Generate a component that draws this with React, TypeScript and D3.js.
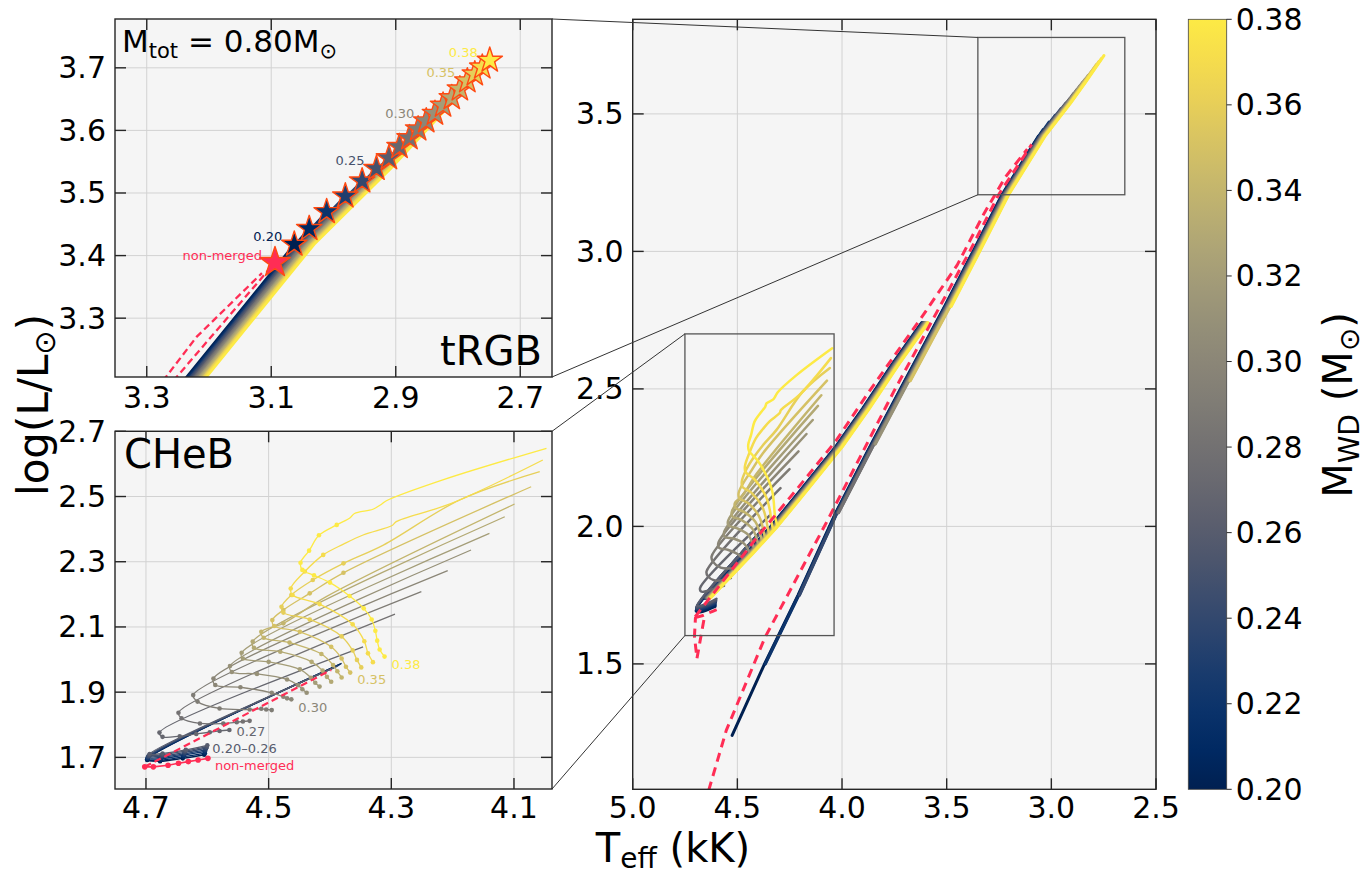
import React from "react";
import * as d3 from "d3";

type P = [number, number];

// ---------------- data (T_eff in kK, log L/Lsun) ----------------
const masses = [0.2, 0.21, 0.22, 0.23, 0.24, 0.25, 0.26, 0.27, 0.28, 0.29, 0.3, 0.31, 0.32, 0.33, 0.34, 0.35, 0.36, 0.37, 0.38];
const tipT = [3.063, 3.039, 3.011, 2.981, 2.954, 2.931, 2.911, 2.894, 2.878, 2.864, 2.851, 2.837, 2.824, 2.81, 2.797, 2.785, 2.773, 2.761, 2.749];
const tipL = [3.418, 3.443, 3.47, 3.495, 3.519, 3.539, 3.556, 3.574, 3.588, 3.602, 3.615, 3.627, 3.64, 3.652, 3.666, 3.679, 3.69, 3.701, 3.712];
const rgbStartL = [1.24, 1.33, 1.45, 1.56, 1.66, 1.76, 1.85, 1.94, 2.02, 2.1, 2.18, 2.25, 2.32, 2.39, 2.46, 2.52, 2.58, 2.64, 2.7];
const rgbOffsetT = [0, -0.002, -0.004, -0.006, -0.007, -0.009, -0.011, -0.013, -0.014, -0.016, -0.018, -0.02, -0.021, -0.023, -0.025, -0.027, -0.028, -0.03, -0.032];
const rgbLocusL = [1.24, 1.5, 1.75, 2.05, 2.3, 2.53, 2.8, 3.0, 3.206, 3.418, 3.539, 3.615, 3.712];
const rgbLocusT = [4.525, 4.37, 4.21, 4.03, 3.86, 3.7, 3.51, 3.374, 3.236, 3.063, 2.94, 2.869, 2.781];
const agbL = [1.74, 1.82, 1.9, 2.0, 2.13, 2.29, 2.43, 2.59, 2.74];
const agbT = [4.66, 4.56, 4.46, 4.34, 4.2, 4.03, 3.9, 3.76, 3.62];

const cheb020: P[] = [[4.381, 1.988], [4.698, 1.692], [4.677, 1.688], [4.64, 1.697], [4.605, 1.708]];
const cheb021: P[] = [[4.383, 1.986], [4.698, 1.694], [4.676, 1.692], [4.639, 1.702], [4.604, 1.713]];
const cheb022: P[] = [[4.385, 1.984], [4.697, 1.697], [4.676, 1.696], [4.638, 1.707], [4.604, 1.718]];
const cheb023: P[] = [[4.386, 1.982], [4.697, 1.7], [4.675, 1.7], [4.637, 1.711], [4.603, 1.723]];
const cheb024: P[] = [[4.388, 1.98], [4.696, 1.703], [4.675, 1.704], [4.637, 1.715], [4.602, 1.728]];
const cheb025: P[] = [[4.39, 1.978], [4.695, 1.706], [4.674, 1.708], [4.636, 1.719], [4.601, 1.732]];
const cheb026: P[] = [[4.392, 1.976], [4.694, 1.71], [4.673, 1.712], [4.635, 1.723], [4.6, 1.737]];
const cheb027: P[] = [[4.346, 2.039], [4.678, 1.776], [4.673, 1.763], [4.645, 1.765], [4.618, 1.772], [4.596, 1.777], [4.58, 1.781], [4.564, 1.784]];
const cheb028: P[] = [[4.294, 2.139], [4.647, 1.837], [4.642, 1.82], [4.612, 1.804], [4.574, 1.804], [4.552, 1.808], [4.542, 1.81], [4.531, 1.812]];
const cheb029: P[] = [[4.251, 2.208], [4.623, 1.891], [4.616, 1.871], [4.58, 1.85], [4.531, 1.847], [4.512, 1.849], [4.504, 1.847], [4.495, 1.845]];
const cheb030: P[] = [[4.208, 2.273], [4.59, 1.942], [4.587, 1.922], [4.546, 1.915], [4.495, 1.898], [4.476, 1.886], [4.47, 1.881], [4.463, 1.878]];
const cheb031: P[] = [[4.17, 2.336], [4.563, 1.98], [4.56, 1.962], [4.519, 1.956], [4.47, 1.939], [4.452, 1.921], [4.445, 1.909], [4.438, 1.898]];
const cheb032: P[] = [[4.14, 2.387], [4.544, 2.021], [4.542, 2.003], [4.5, 1.993], [4.449, 1.97], [4.431, 1.944], [4.424, 1.929], [4.417, 1.917]];
const cheb033: P[] = [[4.115, 2.438], [4.526, 2.055], [4.524, 2.036], [4.481, 2.024], [4.43, 1.993], [4.412, 1.966], [4.405, 1.947], [4.398, 1.932]];
const cheb034: P[] = [[4.099, 2.477], [4.406, 2.193], [4.476, 2.111], [4.512, 2.085], [4.508, 2.067], [4.466, 2.052], [4.414, 2.017], [4.395, 1.983], [4.388, 1.964], [4.381, 1.945]];
const cheb035: P[] = [[4.072, 2.53], [4.378, 2.266], [4.433, 2.203], [4.476, 2.152], [4.494, 2.121], [4.491, 2.103], [4.449, 2.085], [4.398, 2.039], [4.381, 2.003], [4.374, 1.978], [4.367, 1.96]];
const cheb036: P[] = [[4.058, 2.576], [4.189, 2.489], [4.313, 2.351], [4.378, 2.295], [4.428, 2.244], [4.463, 2.198], [4.479, 2.162], [4.476, 2.144], [4.433, 2.123], [4.381, 2.071], [4.363, 2.028], [4.356, 1.999], [4.349, 1.976]];
const cheb037: P[] = [[4.053, 2.612], [4.202, 2.479], [4.292, 2.423], [4.298, 2.412], [4.346, 2.382], [4.378, 2.354], [4.411, 2.321], [4.441, 2.27], [4.464, 2.218], [4.461, 2.198], [4.417, 2.17], [4.363, 2.108], [4.344, 2.056], [4.338, 2.019], [4.33, 1.992]];
const cheb038: P[] = [[4.047, 2.648], [4.216, 2.551], [4.308, 2.487], [4.318, 2.474], [4.33, 2.461], [4.36, 2.448], [4.367, 2.435], [4.389, 2.413], [4.418, 2.381], [4.434, 2.334], [4.448, 2.297], [4.445, 2.275], [4.426, 2.258], [4.4, 2.236], [4.368, 2.195], [4.345, 2.157], [4.332, 2.123], [4.326, 2.088], [4.323, 2.058], [4.319, 2.031], [4.311, 2.009]];
const chebPaths: P[][] = [cheb020, cheb021, cheb022, cheb023, cheb024, cheb025, cheb026, cheb027, cheb028, cheb029, cheb030, cheb031, cheb032, cheb033, cheb034, cheb035, cheb036, cheb037, cheb038];
const chebDotFrom = [1, 1, 1, 1, 1, 1, 1, 1, 1, 1, 1, 1, 1, 1, 2, 1, 3, 6, 7];

// non-merged single star
const nmRgb: P[] = [[4.637, 1.04], [4.553, 1.258], [4.367, 1.598], [4.069, 2.022], [3.753, 2.49], [3.39, 3.0], [3.252, 3.206], [3.094, 3.389]];
const nmAgb: P[] = [[4.702, 1.671], [4.398, 1.968], [4.2, 2.15], [4.03, 2.31], [3.88, 2.48], [3.62, 2.76], [3.45, 2.95], [3.32, 3.14], [3.22, 3.27], [3.115, 3.372]];
const nmCheb: P[] = [[4.702, 1.671], [4.688, 1.671], [4.664, 1.676], [4.647, 1.682], [4.631, 1.687], [4.615, 1.692], [4.599, 1.697]];
const nmFlash: P[] = [[4.66, 1.66], [4.693, 1.52], [4.705, 1.6], [4.7, 1.67]];
const nmTip: P = [3.094, 3.389];

const mainXTicks = [5.0, 4.5, 4.0, 3.5, 3.0, 2.5];
const mainYTicks = [1.5, 2.0, 2.5, 3.0, 3.5];
const trgbXTicks = [3.3, 3.1, 2.9, 2.7];
const trgbYTicks = [3.3, 3.4, 3.5, 3.6, 3.7];
const chebXTicks = [4.7, 4.5, 4.3, 4.1];
const chebYTicks = [1.7, 1.9, 2.1, 2.3, 2.5, 2.7];
const cbarTicks = [0.2, 0.22, 0.24, 0.26, 0.28, 0.3, 0.32, 0.34, 0.36, 0.38];
const trgbLabelMasses = [0.2, 0.25, 0.3, 0.35, 0.38];
const chebLabelMasses = [0.27, 0.3, 0.35, 0.38];

// ---------------- layout ----------------
const MAIN = { l: 632.7, r: 1156, t: 19.3, b: 789.3 };
const TRGB = { l: 115, r: 552, t: 19, b: 377 };
const CHEB = { l: 115, r: 552, t: 431.3, b: 789 };
const CBAR = { l: 1188.3, r: 1226.7, t: 19.3, b: 789.3 };
const mainDomX = [5.0, 2.5], mainDomY = [1.044, 3.844];
const trgbDomX = [3.351, 2.649], trgbDomY = [3.206, 3.778];
const chebDomX = [4.7505, 4.038], chebDomY = [1.603, 2.7];
const chebLabelDy = [1.6, 8.6, 7, 8];

const FONT = "'DejaVu Sans', 'Liberation Sans', sans-serif";
const RED = "#ff2d55";
const STAR_EDGE = "#ff4a12";
const AX = "#262626";
const GRID = "#d2d2d2";
const BG = "#f5f5f5";
const TL = 11;

type Box = { l: number; r: number; t: number; b: number };
type Sc = { x: d3.ScaleLinear<number, number>; y: d3.ScaleLinear<number, number> };

const mk = (box: Box, dx: number[], dy: number[]): Sc => ({
  x: d3.scaleLinear().domain(dx).range([box.l, box.r]),
  y: d3.scaleLinear().domain(dy).range([box.b, box.t]),
});

const fmt1 = d3.format(".1f");
const fmt2 = d3.format(".2f");

function Background({ box, s, xt, yt }: { box: Box; s: Sc; xt: number[]; yt: number[] }) {
  return (
    <g>
      <rect x={box.l} y={box.t} width={box.r - box.l} height={box.b - box.t} fill={BG} />
      <g stroke={GRID} strokeWidth={1}>
        {xt.map((v) => (
          <line key={"gx" + v} x1={s.x(v)} x2={s.x(v)} y1={box.t} y2={box.b} />
        ))}
        {yt.map((v) => (
          <line key={"gy" + v} x1={box.l} x2={box.r} y1={s.y(v)} y2={s.y(v)} />
        ))}
      </g>
    </g>
  );
}

function Frame({ box, s, xt, yt, xLabY }: { box: Box; s: Sc; xt: number[]; yt: number[]; xLabY: number }) {
  return (
    <g>
      <g stroke={AX} strokeWidth={1.4}>
        {xt.map((v) => (
          <g key={"tx" + v}>
            <line x1={s.x(v)} x2={s.x(v)} y1={box.b} y2={box.b - TL} />
            <line x1={s.x(v)} x2={s.x(v)} y1={box.t} y2={box.t + TL} />
          </g>
        ))}
        {yt.map((v) => (
          <g key={"ty" + v}>
            <line x1={box.l} x2={box.l + TL} y1={s.y(v)} y2={s.y(v)} />
            <line x1={box.r} x2={box.r - TL} y1={s.y(v)} y2={s.y(v)} />
          </g>
        ))}
      </g>
      <rect x={box.l} y={box.t} width={box.r - box.l} height={box.b - box.t} fill="none" stroke={AX} strokeWidth={1.4} />
      <g fontFamily={FONT} fontSize={30} fill="#000">
        {xt.map((v) => (
          <text key={"lx" + v} x={s.x(v)} y={xLabY} textAnchor="middle">
            {fmt1(v)}
          </text>
        ))}
        {yt.map((v) => (
          <text key={"ly" + v} x={box.l - 9} y={s.y(v)} textAnchor="end" dominantBaseline="central">
            {fmt1(v)}
          </text>
        ))}
      </g>
    </g>
  );
}

export default function App() {
  const color = (m: number) => d3.interpolateCividis((m - 0.2) / 0.18);
  const sM = mk(MAIN, mainDomX, mainDomY);
  const sT = mk(TRGB, trgbDomX, trgbDomY);
  const sC = mk(CHEB, chebDomX, chebDomY);
  const cr = d3.curveCatmullRom.alpha(0.5);
  const line = (s: Sc, curve: any = d3.curveLinear) =>
    d3.line<P>().x((d) => s.x(d[0])).y((d) => s.y(d[1])).curve(curve);

  const rgbPath = (i: number): P[] => {
    const pts: P[] = [];
    rgbLocusL.forEach((l, k) => {
      if (l >= rgbStartL[i] - 1e-9 && l < tipL[i]) pts.push([rgbLocusT[k] + rgbOffsetT[i], l]);
    });
    pts.push([tipT[i], tipL[i]]);
    return pts;
  };
  const agbPath = (i: number): P[] => agbL.map((l, k) => [agbT[k] + rgbOffsetT[i], l] as P);

  const starM = d3.symbol().type(d3.symbolStar).size(200)() as string;
  const starNM = d3.symbol().type(d3.symbolStar).size(290)() as string;

  const cbY = d3.scaleLinear().domain([0.2, 0.38]).range([CBAR.b, CBAR.t]);
  const gradStops = d3.range(0, 1.0001, 0.05);

  const tBox = { x0: sM.x(trgbDomX[0]), x1: sM.x(trgbDomX[1]), y0: sM.y(trgbDomY[1]), y1: sM.y(trgbDomY[0]) };
  const cBox = { x0: sM.x(chebDomX[0]), x1: sM.x(chebDomX[1]), y0: sM.y(chebDomY[1]), y1: sM.y(chebDomY[0]) };

  return (
    <svg width={1371} height={877} style={{ position: "absolute", left: 0, top: 0, background: "#fff" }} fontFamily={FONT}>
      <defs>
        <clipPath id="clipMain">
          <rect x={MAIN.l} y={MAIN.t} width={MAIN.r - MAIN.l} height={MAIN.b - MAIN.t} />
        </clipPath>
        <clipPath id="clipT">
          <rect x={TRGB.l} y={TRGB.t} width={TRGB.r - TRGB.l} height={TRGB.b - TRGB.t} />
        </clipPath>
        <clipPath id="clipC">
          <rect x={CHEB.l} y={CHEB.t} width={CHEB.r - CHEB.l} height={CHEB.b - CHEB.t} />
        </clipPath>
        <linearGradient id="cbGrad" x1="0" y1="1" x2="0" y2="0">
          {gradStops.map((t) => (
            <stop key={t} offset={t} stopColor={d3.interpolateCividis(t)} />
          ))}
        </linearGradient>
      </defs>

      {/* ---------------- main panel ---------------- */}
      <Background box={MAIN} s={sM} xt={mainXTicks} yt={mainYTicks} />
      <g clipPath="url(#clipMain)" fill="none" strokeLinecap="round" strokeLinejoin="round">
        {masses.map((m, i) => (
          <g key={"mt" + m} stroke={color(m)}>
            <path d={line(sM)(rgbPath(i)) as string} strokeWidth={3} />
            <path d={line(sM, cr)(chebPaths[i]) as string} strokeWidth={2.5} />
            <path d={line(sM)(agbPath(i)) as string} strokeWidth={3} />
          </g>
        ))}
        <g stroke={RED} strokeWidth={3} strokeDasharray="9,6" strokeLinecap="butt">
          <path d={line(sM)(nmRgb) as string} />
          <path d={line(sM)(nmFlash) as string} />
          <path d={line(sM)(nmCheb) as string} />
          <path d={line(sM)(nmAgb) as string} />
        </g>
      </g>
      <Frame box={MAIN} s={sM} xt={mainXTicks} yt={mainYTicks} xLabY={818} />
      <g fill="none" stroke="#555" strokeWidth={1.3}>
        <rect x={tBox.x0} y={tBox.y0} width={tBox.x1 - tBox.x0} height={tBox.y1 - tBox.y0} />
        <rect x={cBox.x0} y={cBox.y0} width={cBox.x1 - cBox.x0} height={cBox.y1 - cBox.y0} />
      </g>
      <g stroke="#333" strokeWidth={1}>
        <line x1={TRGB.r} y1={TRGB.t} x2={tBox.x0} y2={tBox.y0} />
        <line x1={TRGB.r} y1={TRGB.b} x2={tBox.x0} y2={tBox.y1} />
        <line x1={CHEB.r} y1={CHEB.t} x2={cBox.x0} y2={cBox.y0} />
        <line x1={CHEB.r} y1={CHEB.b} x2={cBox.x0} y2={cBox.y1} />
      </g>

      {/* ---------------- tRGB inset ---------------- */}
      <Background box={TRGB} s={sT} xt={trgbXTicks} yt={trgbYTicks} />
      <g clipPath="url(#clipT)" fill="none" strokeLinejoin="round">
        {masses.map((m, i) => (
          <path key={"tt" + m} d={line(sT)(rgbPath(i)) as string} stroke={color(m)} strokeWidth={2.6} />
        ))}
        <g stroke={RED} strokeWidth={2.3} strokeDasharray="7,4">
          <path d={line(sT)(nmRgb) as string} />
          <path d={line(sT)(nmAgb) as string} />
        </g>
        <path
          transform={`translate(${sT.x(nmTip[0])},${sT.y(nmTip[1])})`}
          d={starNM}
          fill={RED}
          stroke={STAR_EDGE}
          strokeWidth={1.4}
        />
        {masses.map((m, i) => (
          <path
            key={"st" + m}
            transform={`translate(${sT.x(tipT[i])},${sT.y(tipL[i])})`}
            d={starM}
            fill={color(m)}
            stroke={STAR_EDGE}
            strokeWidth={1.4}
          />
        ))}
      </g>
      <g fontSize={13} textAnchor="end" dominantBaseline="central">
        {trgbLabelMasses.map((m) => {
          const i = masses.indexOf(m);
          return (
            <text key={"tl" + m} x={sT.x(tipT[i]) - 12} y={sT.y(tipL[i]) - 8} fill={color(m)}>
              {fmt2(m)}
            </text>
          );
        })}
        <text x={sT.x(nmTip[0]) - 13} y={sT.y(nmTip[1]) - 7} fill={RED}>
          non-merged
        </text>
      </g>
      <Frame box={TRGB} s={sT} xt={trgbXTicks} yt={trgbYTicks} xLabY={408} />
      <text x={122} y={52} fontSize={31}>
        M<tspan fontSize={21} dy={6}>tot</tspan>
        <tspan dy={-6}> = 0.80M</tspan>
        <tspan fontSize={21} dy={6}>⊙</tspan>
      </text>
      <text x={542} y={365} fontSize={40} textAnchor="end">
        tRGB
      </text>

      {/* ---------------- CHeB inset ---------------- */}
      <Background box={CHEB} s={sC} xt={chebXTicks} yt={chebYTicks} />
      <g clipPath="url(#clipC)">
        {masses.map((m, i) => (
          <g key={"ct" + m}>
            <path d={line(sC, cr)(chebPaths[i]) as string} stroke={color(m)} strokeWidth={1.3} fill="none" />
            {chebPaths[i].slice(chebDotFrom[i]).map((p, k) => (
              <circle key={k} cx={sC.x(p[0])} cy={sC.y(p[1])} r={2.3} fill={color(m)} />
            ))}
          </g>
        ))}
        <path d={line(sC)(nmCheb) as string} stroke={RED} strokeWidth={1.6} fill="none" />
        {nmCheb.map((p, k) => (
          <circle key={"nd" + k} cx={sC.x(p[0])} cy={sC.y(p[1])} r={2.8} fill={RED} />
        ))}
        <path
          d={line(sC)(nmAgb.slice(0, 2)) as string}
          stroke={RED}
          strokeWidth={2.2}
          strokeDasharray="7,4"
          fill="none"
        />
      </g>
      <g fontSize={13} dominantBaseline="central">
        {chebLabelMasses.map((m, j) => {
          const i = masses.indexOf(m);
          const d = chebPaths[i][chebPaths[i].length - 1];
          return (
            <text key={"cl" + m} x={sC.x(d[0]) + 7} y={sC.y(d[1]) + chebLabelDy[j]} fill={color(m)}>
              {fmt2(m)}
            </text>
          );
        })}
        <text
          x={sC.x(cheb026[cheb026.length - 1][0]) + 5}
          y={sC.y(cheb026[cheb026.length - 1][1]) + 3}
          fill={color(0.26)}
        >
          0.20–0.26
        </text>
        <text x={sC.x(nmCheb[nmCheb.length - 1][0]) + 7} y={sC.y(nmCheb[nmCheb.length - 1][1]) + 7} fill={RED}>
          non-merged
        </text>
      </g>
      <Frame box={CHEB} s={sC} xt={chebXTicks} yt={chebYTicks} xLabY={818} />
      <text x={124} y={468} fontSize={40}>
        CHeB
      </text>

      {/* ---------------- colorbar ---------------- */}
      <rect
        x={CBAR.l}
        y={CBAR.t}
        width={CBAR.r - CBAR.l}
        height={CBAR.b - CBAR.t}
        fill="url(#cbGrad)"
        stroke="#444"
        strokeWidth={0.8}
      />
      <g stroke={AX} strokeWidth={1}>
        {cbarTicks.map((v) => (
          <line key={"cbt" + v} x1={CBAR.r} x2={CBAR.r + 5} y1={cbY(v)} y2={cbY(v)} />
        ))}
      </g>
      <g fontSize={30} dominantBaseline="central">
        {cbarTicks.map((v) => (
          <text key={"cbl" + v} x={CBAR.r + 9} y={cbY(v)}>
            {fmt2(v)}
          </text>
        ))}
      </g>
      <text transform="translate(1352,405) rotate(-90)" fontSize={40} textAnchor="middle">
        M<tspan fontSize={28} dy={7}>WD</tspan>
        <tspan dy={-7}> (M</tspan>
        <tspan fontSize={28} dy={7}>⊙</tspan>
        <tspan dy={-7}>)</tspan>
      </text>

      {/* ---------------- axis labels ---------------- */}
      <text x={673} y={862} fontSize={40} textAnchor="middle">
        T<tspan fontSize={28} dy={6}>eff</tspan>
        <tspan dy={-6}> (kK)</tspan>
      </text>
      <text transform="translate(48,405) rotate(-90)" fontSize={42} textAnchor="middle">
        log(L/L<tspan fontSize={29} dy={7}>⊙</tspan>
        <tspan dy={-7}>)</tspan>
      </text>
    </svg>
  );
}
